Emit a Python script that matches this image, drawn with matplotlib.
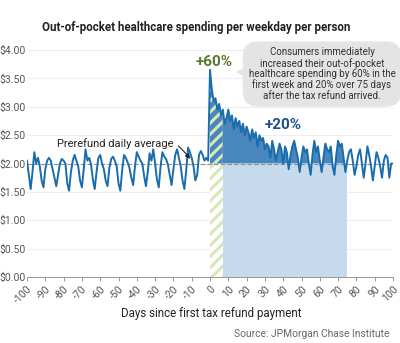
import matplotlib
matplotlib.use("Agg")
import matplotlib.pyplot as plt
from matplotlib.patches import Polygon
import numpy as np

plt.rcParams['font.family'] = ['Liberation Sans Narrow', 'Roboto', 'DejaVu Sans']
plt.rcParams['hatch.linewidth'] = 2.2

# daily spending, days -100 .. 100
days = list(range(-100, 101))
pre = [2.05, 1.80, 1.55, 1.85, 2.20, 2.00, 2.10,
       1.95, 1.70, 1.58, 1.90, 2.05, 2.10, 2.05,
       1.90, 1.75, 1.60, 1.80, 2.00, 2.08, 2.05,
       2.00, 1.65, 1.52, 1.85, 2.05, 2.15, 2.05,
       1.95, 1.70, 1.58, 1.90, 2.25, 2.05, 2.10,
       1.98, 1.72, 1.55, 1.85, 2.10, 2.15, 2.00,
       1.90, 1.70, 1.60, 1.92, 2.08, 2.12, 2.05,
       1.95, 1.65, 1.52, 1.88, 2.15, 2.10, 2.02,
       1.92, 1.75, 1.62, 1.95, 2.20, 2.12, 2.05,
       2.00, 1.78, 1.60, 1.85, 2.18, 2.05, 2.25,
       2.00, 1.72, 1.58, 1.95, 2.20, 2.12, 2.08,
       1.98, 1.80, 1.62, 1.90, 2.15, 2.25, 2.10,
       1.95, 1.70, 1.55, 1.88, 2.28, 2.20, 2.10,
       1.95, 1.70, 1.80, 2.15, 2.22, 2.15, 2.05,
       2.10, 2.05]
post = [3.65, 3.30, 3.10, 3.15, 2.95, 3.05, 2.85,
        2.95, 2.70, 2.80, 2.95, 2.75, 2.85, 2.60,
        2.80, 2.65, 2.75, 2.55, 2.70, 2.50, 2.65,
        2.55, 2.40, 2.60, 2.45, 2.55, 2.30, 2.50,
        2.40, 2.45, 2.25, 2.35, 2.30, 2.10, 2.40,
        2.25, 2.05, 2.20, 2.35, 2.25, 2.00, 2.30,
        2.20, 1.90, 2.15, 2.30, 2.40, 2.25, 2.10,
        1.85, 2.10, 2.30, 2.20, 2.25, 2.00, 1.80,
        2.15, 2.40, 2.20, 2.30, 2.05, 1.85, 2.10,
        2.35, 2.25, 2.20, 2.30, 1.95, 1.80, 2.15,
        2.40, 2.30, 2.35, 2.10, 1.85, 2.05, 2.20,
        2.25, 2.05, 1.80, 1.95, 2.15, 2.25, 2.00,
        1.75, 2.00, 2.30, 2.15, 1.95, 1.70, 1.95,
        2.20, 2.10, 1.95, 1.75, 2.05, 2.15, 2.10,
        1.75, 2.00, 2.00]
spend = pre + post
baseline = 2.0
first_week_end = 7
window_end = 75

yticks = [0, 0.5, 1.0, 1.5, 2.0, 2.5, 3.0, 3.5, 4.0]
xticks = list(range(-100, 101, 10))

x = np.array(days)
y = np.array(spend)

fig = plt.figure(figsize=(4, 3.43), dpi=100)
ax = fig.add_axes([27/400, 1-277/343, (393-27)/400, (277-50)/343])

line_c = '#1b6cab'
fill_c = '#4886bd'
light_c = '#c5daec'
green_c = '#d6e8b6'

# light blue box under baseline, days 7-75
ax.fill_between([first_week_end, window_end], 0, baseline, color=light_c, lw=0, zorder=1)

# first week hatched area
wk = (x >= 0) & (x <= first_week_end)
ax.fill_between(x[wk], 0, baseline, facecolor='white', edgecolor=green_c, hatch='///', lw=0, zorder=1)
ax.fill_between(x[wk], baseline, y[wk], facecolor=fill_c, edgecolor=green_c, hatch='///', lw=0, zorder=1)

# dark blue area above baseline
m = (x >= first_week_end) & (x <= window_end)
ax.fill_between(x[m], baseline, y[m], where=y[m] > baseline, interpolate=True,
                color=fill_c, lw=0, zorder=1)

ax.axhline(baseline, color='#8a8f96', lw=0.8, ls=(0, (4, 2)), zorder=2)
ax.plot(x, y, color=line_c, lw=1.4, zorder=3)

ax.set_xlim(-100, 100)
ax.set_ylim(0, 4.0)
ax.set_yticks(yticks)
ax.set_yticklabels(['$%.2f' % v for v in yticks])
ax.set_xticks(xticks)
ax.set_xticklabels([str(v) for v in xticks], rotation=45, ha='right', rotation_mode='anchor')
ax.tick_params(axis='y', length=0, pad=1, labelsize=7.5, labelcolor='#555555')
ax.tick_params(axis='x', length=3, width=0.6, color='#888888', pad=2, labelsize=7.5, labelcolor='#555555')
for s in ['top', 'right', 'left']:
    ax.spines[s].set_visible(False)
ax.spines['bottom'].set_color('#888888')
ax.spines['bottom'].set_linewidth(0.6)
ax.grid(axis='y', color='#eeeeee', lw=0.8)
ax.set_axisbelow(True)

fig.text(0.49, 1-28/343, 'Out-of-pocket healthcare spending per weekday per person',
         ha='center', va='center', fontsize=8.3, fontweight='bold', color='#222222')
fig.text(211/400, 1-313/343, 'Days since first tax refund payment',
         ha='center', va='center', fontsize=8.3, color='#222222')
fig.text(390/400, 1-334/343, 'Source: JPMorgan Chase Institute',
         ha='right', va='center', fontsize=7.4, color='#666666')

ax.text(2, 3.78, '+60%', ha='center', va='center', fontsize=11, fontweight='bold', color='#5b7a2b')
ax.text(40, 2.68, '+20%', ha='center', va='center', fontsize=11, fontweight='bold', color='#1f4e8c')

ax.annotate('Prerefund daily average', xy=(-10, 2.04), xytext=(-20, 2.36),
            ha='right', va='center', fontsize=8, color='#222222',
            arrowprops=dict(arrowstyle='-|>', color='#222222', lw=0.8,
                            connectionstyle='arc3,rad=-0.45', mutation_scale=7))

# callout bubble
fig.text(322/400, 1-74/343,
         'Consumers immediately\nincreased their out-of-pocket\nhealthcare spending by 60% in the\n'
         'first week and 20% over 75 days\nafter the tax refund arrived.',
         ha='center', va='center', fontsize=7, color='#333333', linespacing=1.05,
         bbox=dict(boxstyle='round,pad=0.6,rounding_size=1.6', fc='#e4e4e4', ec='none'))
tri = Polygon([[236/400, 1-72/343], [252/400, 1-64/343], [252/400, 1-82/343]],
              closed=True, transform=fig.transFigure, fc='#e4e4e4', ec='none')
fig.patches.append(tri)

fig.savefig('out.png', dpi=100)
